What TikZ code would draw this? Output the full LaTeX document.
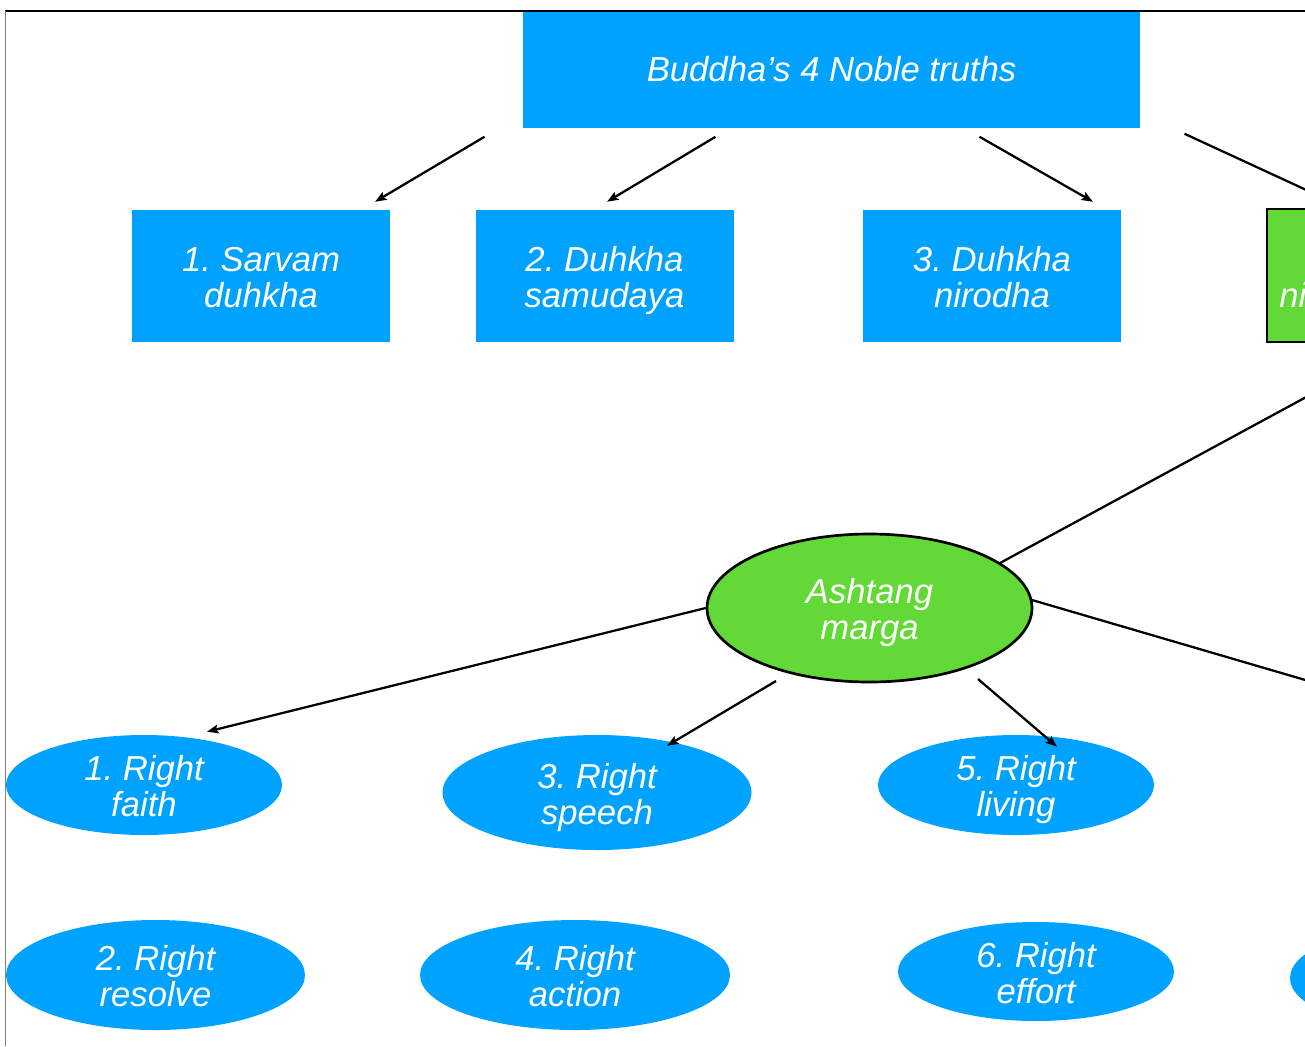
\documentclass[tikz,border=0pt]{standalone}
\usepackage{fontspec}
\setmainfont{Liberation Sans}
\usetikzlibrary{shapes.geometric,arrows.meta,calc}
\definecolor{nblue}{HTML}{00A2FF}
\definecolor{ngreen}{HTML}{62D936}
\newcommand\topst{\rule{0pt}{28.8pt}}
\newcommand\botst{\rule[-8pt]{0pt}{0pt}}
\frenchspacing
\begin{document}
\begin{tikzpicture}[x=0.75pt,y=-0.75pt,
  txt/.style={text=white,font=\fontsize{26}{27}\selectfont\itshape\frenchspacing,align=center,inner sep=0pt},
  bluebox/.style={txt,rectangle,fill=nblue,minimum width=193.5pt,minimum height=99pt},
  greenbox/.style={txt,rectangle,fill=ngreen,draw=black,line width=1.6pt,minimum width=186pt,minimum height=99.75pt},
  blueell/.style={txt,ellipse,fill=nblue,inner ysep=-20pt},
  greenell/.style={txt,ellipse,fill=ngreen,draw=black,line width=2pt,inner ysep=-20pt},
  arr/.style={line width=1.7pt,-{Stealth[length=8.5pt,width=6.5pt,inset=1.5pt]}},
  plain/.style={line width=1.7pt}]
\useasboundingbox (0,0) rectangle (1305,1046);
\clip (0,0) rectangle (1305,1046);
\fill[white] (0,0) rectangle (1305,1046);

% top box
\node[txt,rectangle,fill=nblue,minimum width=462.75pt,minimum height=87pt] (top) at (831.5,69.5) {\rule{0pt}{19pt}Buddha’s 4 Noble truths\rule[-1.5pt]{0pt}{0pt}};

% frame
\draw[line width=1.9pt,black] (5,11) -- (1305,11);
\draw[line width=1.2pt,gray] (5.5,11) -- (5.5,1046);

% truths
\node[bluebox] (b1) at (261,276) {\topst 1. Sarvam\\duhkha\botst};
\node[bluebox] (b2) at (604.5,276) {\topst 2. Duhkha\\samudaya\botst};
\node[bluebox] (b3) at (992,276) {\topst 3. Duhkha\\nirodha\botst};
\node[greenbox] (g4) at (1391,275.5) {\topst 4. Duhkha\\nirodha marga\botst};

% ashtang marga
\node[greenell,minimum width=243.75pt,minimum height=111pt] (am) at (869.5,608) {\topst Ashtang\\marga\botst};

% eight-fold path
\node[blueell,minimum width=207pt,minimum height=75pt] (e1) at (144,785) {\topst 1. Right\\faith\botst};
\node[blueell,minimum width=231.75pt,minimum height=86.25pt] (e3) at (597,792.5) {\topst 3. Right\\speech\botst};
\node[blueell,minimum width=207pt,minimum height=75pt] (e5) at (1016,785) {\topst 5. Right\\living\botst};
\node[blueell,minimum width=224.25pt,minimum height=82.5pt] (e2) at (155.5,975) {\topst 2. Right\\resolve\botst};
\node[blueell,minimum width=232.5pt,minimum height=82.5pt] (e4) at (575,975) {\topst 4. Right\\action\botst};
\node[blueell,minimum width=207pt,minimum height=74.25pt] (e6) at (1036,971.5) {\topst 6. Right\\effort\botst};
\node[blueell,minimum width=210pt,minimum height=78.75pt] (e8) at (1430,978) {};
\coordinate (e7) at (1500,737);

% connectors from top box
\draw[arr] ($(top.south)+(-347,9)$) -- ($(b1.north)+(114,-8)$);
\draw[arr] ($(top.south)+(-116,9)$) -- ($(b2.north)+(2.5,-8)$);
\draw[arr] ($(top.south)+(148,9)$) -- ($(b3.north)+(101,-8)$);
\draw[arr] ($(top.south)+(353,6)$) -- ($(g4.north)+(-61,-7)$);

% from truth 4 to ashtang marga
\draw[plain] ($(g4.south)+(0,8)$) -- ($(am.center)+(130.5,-45)$);

% from ashtang marga
\draw[arr] (am.west) -- ($(e1.north)+(63,-3)$);
\draw[arr] ($(am.center)+(-93.5,73)$) -- ($(e3.north)+(70,11)$);
\draw[arr] ($(am.center)+(108.5,71)$) -- ($(e5.north)+(41,12)$);
\draw[plain] ($(am.center)+(162.5,-8)$) -- (e7);
\end{tikzpicture}
\end{document}
